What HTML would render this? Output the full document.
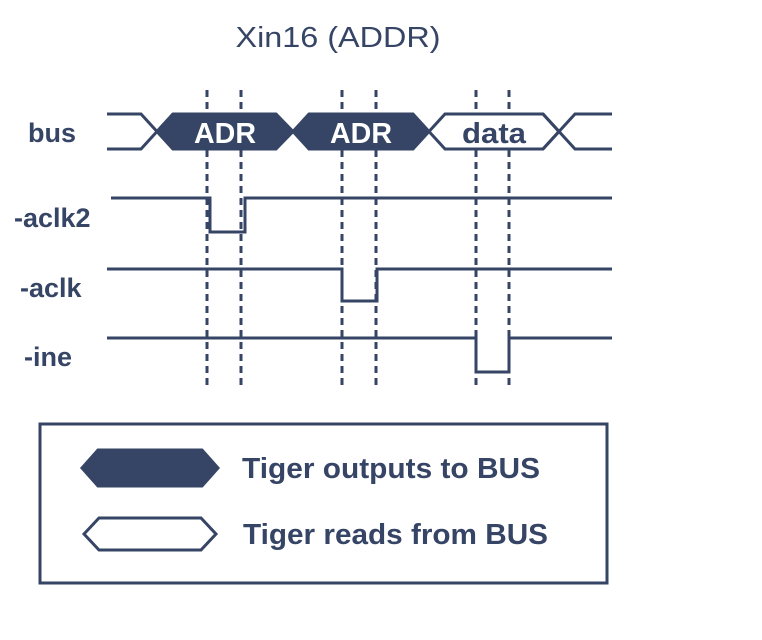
<!DOCTYPE html>
<html><head><meta charset="utf-8"><style>html,body{margin:0;padding:0;background:#fff}</style></head>
<body>
<svg width="762" height="635" xmlns="http://www.w3.org/2000/svg" font-family="Liberation Sans, sans-serif">
<g fill="none" stroke="#364565" stroke-width="3">
<text x="338" y="47" text-anchor="middle" font-size="29" fill="#364565" stroke="none" textLength="205" lengthAdjust="spacingAndGlyphs">Xin16 (ADDR)</text>
<g stroke-dasharray="7,5" stroke-width="3">
<line x1="207" y1="90" x2="207" y2="386"/><line x1="241" y1="90" x2="241" y2="386"/>
<line x1="342" y1="90" x2="342" y2="386"/><line x1="376" y1="90" x2="376" y2="386"/>
<line x1="476" y1="90" x2="476" y2="386"/><line x1="509" y1="90" x2="509" y2="386"/>
</g>
<polyline points="107,114 141,114 173,149"/>
<polyline points="107,149 141,149 173,114"/>
<polygon points="157,131.5 173,114 276,114 293,131.5 276,149 173,149" fill="#364565"/>
<polygon points="293,131.5 309,114 413,114 429,131.5 413,149 309,149" fill="#364565"/>
<polygon points="429,131.5 445,114 543,114 559,131.5 543,149 445,149" fill="#fff"/>
<polyline points="543,114 575,149 612,149"/>
<polyline points="543,149 575,114 612,114"/>
<g font-weight="bold" font-size="29" stroke="none" text-anchor="middle">
<text x="225" y="143" fill="#fff" textLength="62" lengthAdjust="spacingAndGlyphs">ADR</text>
<text x="361" y="143" fill="#fff" textLength="62" lengthAdjust="spacingAndGlyphs">ADR</text>
<text x="494" y="143" fill="#364565" textLength="64" lengthAdjust="spacingAndGlyphs">data</text>
</g>
<polyline points="111,198 210,198 210,232 245,232 245,198 612,198"/>
<polyline points="107,269 342,269 342,301 377,301 377,269 612,269"/>
<polyline points="107,338 476,338 476,372 509,372 509,338 612,338"/>
<g font-weight="bold" font-size="27" fill="#364565" stroke="none">
<text x="28" y="142">bus</text>
<text x="14" y="227">-aclk2</text>
<text x="20" y="297">-aclk</text>
<text x="24" y="366">-ine</text>
</g>
<rect x="40" y="424" width="567" height="159"/>
<polygon points="82,468 98,450 202,450 218,468 202,486 98,486" fill="#364565"/>
<polygon points="84,534 99,518 201,518 216,534 201,550 99,550" fill="#fff"/>
<g font-weight="bold" font-size="29" fill="#364565" stroke="none">
<text x="242" y="478" textLength="298" lengthAdjust="spacingAndGlyphs">Tiger outputs to BUS</text>
<text x="243" y="544" textLength="305" lengthAdjust="spacingAndGlyphs">Tiger reads from BUS</text>
</g>
</g>
</svg>
</body></html>
